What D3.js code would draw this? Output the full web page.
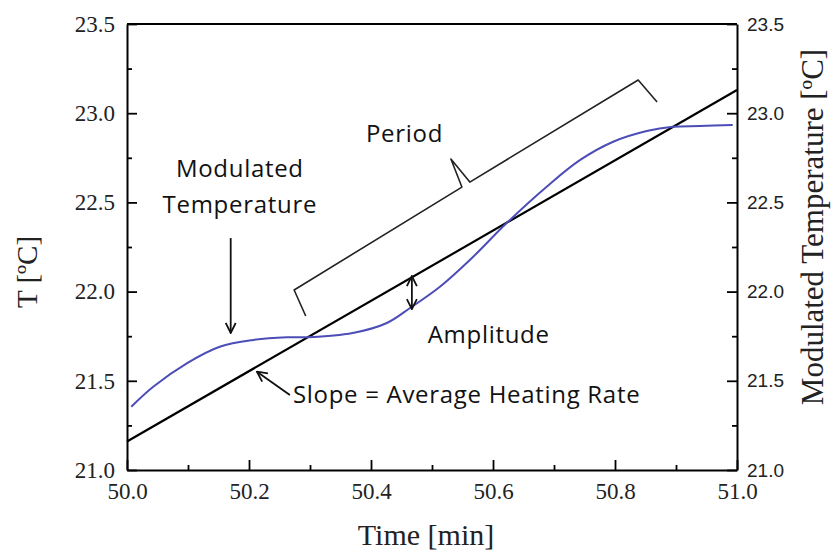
<!DOCTYPE html>
<html>
<head>
<meta charset="utf-8">
<script src="https://cdn.jsdelivr.net/npm/d3@7"></script>
<style>
  body { margin: 0; background: #fff; }
  .serif { font-family: "Liberation Serif", "Times New Roman", serif; fill: #222; }
  .note { font-family: "Open Sans", sans-serif; fill: #111; }
</style>
</head>
<body>
<div id="chart" style="width:833px;height:550px"></div>
<script>
var timeMin = [50.007, 50.043, 50.098, 50.152, 50.207, 50.262, 50.295, 50.370, 50.426, 50.464,
               50.513, 50.562, 50.622, 50.688, 50.743, 50.797, 50.852, 50.895, 50.939, 50.993];
var modTemp = [21.355, 21.467, 21.598, 21.691, 21.729, 21.744, 21.744, 21.768, 21.824, 21.908,
               22.027, 22.177, 22.383, 22.588, 22.738, 22.840, 22.900, 22.924, 22.928, 22.934];
var trendTime = [50.0, 51.0];
var trendTemp = [21.16, 23.13];
var xTicks = [50.0, 50.2, 50.4, 50.6, 50.8, 51.0];
var yTicks = [21.0, 21.5, 22.0, 22.5, 23.0, 23.5];

var margin = {top: 24, right: 96, bottom: 80, left: 127},
    width = 833 - margin.left - margin.right,
    height = 550 - margin.top - margin.bottom;

var xScale = d3.scaleLinear().domain([50, 51]).range([0, width]);
var yScale = d3.scaleLinear().domain([21, 23.5]).range([height, 0]);

var serifFont = "Liberation Serif";

var svg = d3.select("#chart").append("svg")
    .attr("width", 833)
    .attr("height", 550);

var defs = svg.append("defs");
defs.append("marker")
    .attr("id", "arrow")
    .attr("viewBox", "0 0 12 12")
    .attr("refX", 11).attr("refY", 6)
    .attr("markerWidth", 12).attr("markerHeight", 12)
    .attr("markerUnits", "userSpaceOnUse")
    .attr("orient", "auto-start-reverse")
  .append("path")
    .attr("d", "M1,1 L11,6 L1,11")
    .attr("fill", "none")
    .attr("stroke", "#111")
    .attr("stroke-width", 1.8);

var g = svg.append("g")
    .attr("transform", "translate(" + margin.left + "," + margin.top + ")");

// axes, ticks pointing inward
function styleAxis(sel) {
    sel.select(".domain").attr("stroke", "#000").attr("stroke-width", 2);
    sel.selectAll(".tick line").attr("stroke", "#000").attr("stroke-width", 1.8);
}
var minorX = d3.range(50.1, 51, 0.2);
var minorY = d3.range(21.25, 23.5, 0.5);

g.append("g").attr("transform", "translate(0," + height + ")")
    .call(d3.axisBottom(xScale).tickValues(xTicks).tickSize(-10).tickSizeOuter(0).tickFormat(d3.format(".1f")))
    .attr("font-family", serifFont).attr("font-size", 23)
    .call(styleAxis)
    .call(function(s) {
        s.selectAll("text").attr("dy", "0.71em").attr("y", 13).attr("fill", "#222");
    });
g.append("g").attr("transform", "translate(0," + height + ")")
    .call(d3.axisBottom(xScale).tickValues(minorX).tickSize(-5).tickFormat(""))
    .call(styleAxis).select(".domain").remove();

g.append("g")
    .call(d3.axisLeft(yScale).tickValues(yTicks).tickSize(-10).tickSizeOuter(0).tickFormat(d3.format(".1f")))
    .attr("font-family", serifFont).attr("font-size", 23)
    .call(styleAxis)
    .call(function(s) {
        s.selectAll("text").attr("x", -12).attr("fill", "#222");
    });
g.append("g")
    .call(d3.axisLeft(yScale).tickValues(minorY).tickSize(-5).tickFormat(""))
    .call(styleAxis).select(".domain").remove();

g.append("g").attr("transform", "translate(" + width + ",0)")
    .call(d3.axisRight(yScale).tickValues(yTicks).tickSize(-10).tickSizeOuter(0).tickFormat(d3.format(".1f")))
    .attr("font-family", "Liberation Sans").attr("font-size", 19)
    .call(styleAxis)
    .call(function(s) {
        s.selectAll("text").attr("x", 10).attr("fill", "#222");
    });
g.append("g").attr("transform", "translate(" + width + ",0)")
    .call(d3.axisRight(yScale).tickValues(minorY).tickSize(-5).tickFormat(""))
    .call(styleAxis).select(".domain").remove();

// top frame
g.append("line")
    .attr("x1", 0).attr("x2", width).attr("y1", 0).attr("y2", 0)
    .attr("stroke", "#000").attr("stroke-width", 2);

// axis titles
svg.append("text").attr("class", "serif")
    .attr("transform", "translate(37,272) rotate(-90)")
    .attr("text-anchor", "middle").style("font-size", "29px")
    .text("T [ºC]");
svg.append("text").attr("class", "serif")
    .attr("transform", "translate(823,227) rotate(-90)")
    .attr("text-anchor", "middle").style("font-size", "31px")
    .text("Modulated Temperature [ºC]");
svg.append("text").attr("class", "serif")
    .attr("x", 426).attr("y", 545)
    .attr("text-anchor", "middle").style("font-size", "30px")
    .text("Time [min]");

// average heating rate line
var trend = trendTime.map(function(t, i) { return {t: t, v: trendTemp[i]}; });
g.append("path")
    .datum(trend)
    .attr("fill", "none").attr("stroke", "#000").attr("stroke-width", 2.2)
    .attr("d", d3.line().x(function(d) { return xScale(d.t); }).y(function(d) { return yScale(d.v); }));

// modulated temperature
var data = timeMin.map(function(t, i) { return {t: t, v: modTemp[i]}; });
g.append("path")
    .datum(data)
    .attr("fill", "none").attr("stroke", "#4d4db8").attr("stroke-width", 2)
    .attr("d", d3.line().curve(d3.curveCatmullRom)
        .x(function(d) { return xScale(d.t); }).y(function(d) { return yScale(d.v); }));

// annotations (data units)
var brace = [[50.293, 21.863], [50.274, 22.009], [50.549, 22.586], [50.531, 22.743],
             [50.562, 22.614], [50.838, 23.186], [50.869, 23.063]];
g.append("path")
    .datum(brace)
    .attr("fill", "none").attr("stroke", "#222").attr("stroke-width", 1.6)
    .attr("stroke-linejoin", "round")
    .attr("d", d3.line().x(function(d) { return xScale(d[0]); }).y(function(d) { return yScale(d[1]); }));

var arrows = [
    {x1: 50.170, y1: 22.300, x2: 50.170, y2: 21.768, both: false},
    {x1: 50.267, y1: 21.420, x2: 50.213, y2: 21.551, both: false},
    {x1: 50.467, y1: 21.902, x2: 50.467, y2: 22.087, both: true}
];
g.selectAll(".arr").data(arrows).enter().append("line")
    .attr("class", "arr")
    .attr("x1", function(d) { return xScale(d.x1); })
    .attr("y1", function(d) { return yScale(d.y1); })
    .attr("x2", function(d) { return xScale(d.x2); })
    .attr("y2", function(d) { return yScale(d.y2); })
    .attr("stroke", "#111").attr("stroke-width", 1.8)
    .attr("marker-end", "url(#arrow)")
    .attr("marker-start", function(d) { return d.both ? "url(#arrow)" : null; });

var notes = [
    {t: 50.185, v: 22.642, text: "Modulated", anchor: "middle"},
    {t: 50.185, v: 22.441, text: "Temperature", anchor: "middle"},
    {t: 50.455, v: 22.839, text: "Period", anchor: "middle"},
    {t: 50.493, v: 21.712, text: "Amplitude", anchor: "start"},
    {t: 50.272, v: 21.376, text: "Slope = Average Heating Rate", anchor: "start"}
];
g.selectAll(".note").data(notes).enter().append("text")
    .attr("class", "note")
    .attr("x", function(d) { return xScale(d.t); })
    .attr("y", function(d) { return yScale(d.v); })
    .attr("text-anchor", function(d) { return d.anchor; })
    .style("font-size", "24px")
    .style("letter-spacing", "0.7px")
    .text(function(d) { return d.text; });
</script>
</body>
</html>
